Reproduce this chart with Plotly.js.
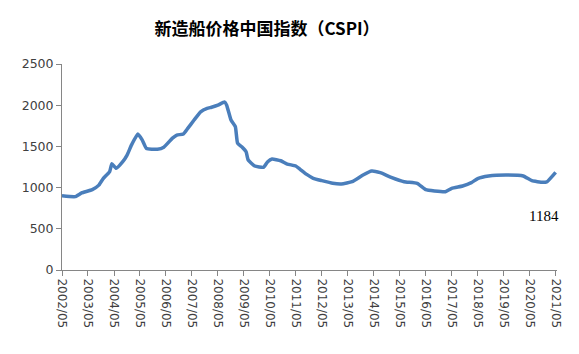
<!DOCTYPE html>
<html>
<head>
<meta charset="utf-8">
<script src="https://cdn.plot.ly/plotly-3.0.1.min.js"></script>
<style>html,body{margin:0;padding:0;background:#fff;}#chart{width:579px;height:354px;}</style>
</head>
<body>
<div id="chart"></div>
<script>
const months = [
  "2002-05","2002-11","2003-02","2003-07","2003-10","2003-12","2004-03","2004-04","2004-06","2004-09",
  "2004-11","2005-01","2005-04","2005-06","2005-08","2006-01","2006-04","2006-08","2006-10","2007-01",
  "2007-03","2007-06","2007-09","2007-12","2008-02","2008-05","2008-08","2008-09","2008-11","2009-01",
  "2009-02","2009-04","2009-06","2009-07","2009-10","2010-02","2010-04","2010-06","2010-10","2011-01",
  "2011-05","2011-07","2011-10","2012-01","2012-05","2012-10","2013-02","2013-07","2013-12","2014-04",
  "2014-08","2015-01","2015-07","2016-01","2016-05","2016-09","2017-02","2017-05","2017-10","2018-02",
  "2018-05","2018-10","2019-06","2020-02","2020-06","2020-11","2021-01","2021-05"
];
const cspi = [
  900, 890, 935, 975, 1030, 1110, 1195, 1290, 1235, 1315,
  1395, 1515, 1650, 1580, 1475, 1465, 1490, 1600, 1638, 1650,
  1715, 1820, 1920, 1962, 1975, 2000, 2040, 2000, 1820, 1740,
  1540, 1495, 1435, 1335, 1262, 1246, 1314, 1347, 1326, 1286,
  1262, 1222, 1160, 1113, 1084, 1052, 1044, 1072, 1153, 1201,
  1181, 1125, 1072, 1052, 975, 959, 950, 991, 1019, 1060,
  1110, 1141, 1153, 1141, 1084, 1064, 1072, 1184
];
const titleText = "新造船价格中国指数（CSPI）";
const lastLabel = "1184";
const yTicks = [0, 500, 1000, 1500, 2000, 2500];

const trace = {
  x: months, y: cspi, type: "scatter", mode: "lines",
  line: {color: "#4A7EBB", width: 3.5, shape: "spline", smoothing: 0.4},
  hoverinfo: "skip"
};

const layout = {
  width: 579, height: 354,
  margin: {l: 62, r: 22, t: 64, b: 84},
  paper_bgcolor: "#ffffff", plot_bgcolor: "#ffffff",
  showlegend: false,
  title: {
    text: "<b>" + titleText + "</b>",
    font: {family: "Noto Sans CJK SC, sans-serif", size: 17, color: "#000000"},
    x: 267/579, xanchor: "center", xref: "container",
    y: 1 - 29/354, yanchor: "middle", yref: "container"
  },
  xaxis: {
    type: "date",
    range: ["2002-05-01", "2021-05-20"],
    tick0: "2002-05-01", dtick: "M12", tickformat: "%Y/%m",
    tickangle: 90,
    ticks: "outside", ticklen: 5, tickcolor: "#868686", tickwidth: 1,
    showline: true, linecolor: "#868686", linewidth: 1,
    showgrid: false, zeroline: false,
    tickfont: {family: "DejaVu Sans, sans-serif", size: 12, color: "#404040"}
  },
  yaxis: {
    range: [0, 2500],
    tickvals: yTicks,
    ticks: "outside", ticklen: 5, tickcolor: "#868686", tickwidth: 1,
    showline: true, linecolor: "#868686", linewidth: 1,
    showgrid: false, zeroline: false,
    tickfont: {family: "DejaVu Sans, sans-serif", size: 12.5, color: "#404040"}
  },
  annotations: [{
    text: lastLabel, xref: "paper", yref: "y",
    x: (544-62)/495, y: 655, xanchor: "center", yanchor: "middle",
    showarrow: false,
    font: {family: "Liberation Serif, Times New Roman, serif", size: 15, color: "#000000"}
  }]
};

Plotly.newPlot("chart", [trace], layout, {staticPlot: true, displayModeBar: false});
</script>
</body>
</html>
